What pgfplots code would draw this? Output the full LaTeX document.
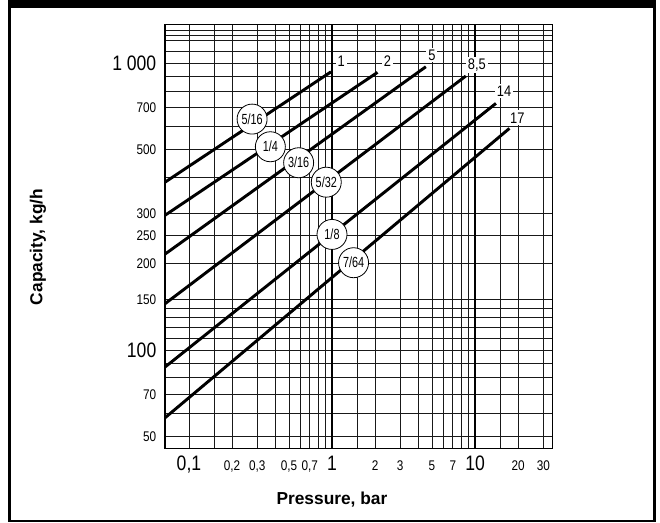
\documentclass[border=0pt]{standalone}
\usepackage{fontspec}
\setmainfont{Liberation Sans}
\newfontfamily\nar{Liberation Sans}[FakeStretch=0.84]
\newfontfamily\narr{Liberation Sans}[FakeStretch=0.74]
\usepackage{pgfplots}
\pgfplotsset{compat=1.18}
\newcommand\Lg{\fontsize{15.7}{16}\selectfont}
\begin{document}
\begin{tikzpicture}
\useasboundingbox (0,0) rectangle (495pt,392.25pt);
\begin{axis}[
  at={(123.75pt,56.0pt)}, anchor=south west,
  scale only axis, width=290.5pt, height=318pt,
  xmode=log, ymode=log,
  xmin=0.068, xmax=34.7, ymin=45.4, ymax=1368,
  xtick={0.1,0.2,0.3,0.5,0.7,1,2,3,5,7,10,20,30},
  xticklabels={{\Lg 0,1},{0,2},{0,3},{0,5},{0,7},{\Lg 1},{2},{3},{5},{7},{\Lg 10},{20},{30}},
  minor xtick={0.15,0.4,0.6,0.8,0.9,1.5,4,6,8,9,15},
  ytick={50,70,100,150,200,250,300,500,700,1000},
  yticklabels={{50},{70},{\Lg 100},{150},{200},{250},{300},{500},{700},{\Lg 1 000}},
  minor ytick={60,80,90,110,120,130,140,400,600,800,900,1100,1200,1250,1300},
  grid=both,
  major grid style={black!90, line width=0.65pt},
  minor grid style={black!90, line width=0.65pt},
  major tick length=0pt, minor tick length=0pt,
  axis line style={line width=1.2pt},
  ticklabel style={font=\nar\fontsize{10.5}{11}\selectfont},
  xticklabel style={anchor=base, yshift=-16.5pt},
  yticklabel style={xshift=-3pt},
  extra x ticks={1,10}, extra x tick labels={},
  extra x tick style={major grid style={black, line width=1.4pt}},
  xlabel={Pressure, bar}, ylabel={Capacity, kg/h},
  label style={font=\bfseries\fontsize{13}{14}\selectfont},
  xlabel style={at={(axis description cs:0.431,-0.122)}, anchor=center},
  ylabel style={at={(axis description cs:-0.328,0.475)}, anchor=center},
]
\addplot[line width=2.2pt] coordinates {(0.068,385) (0.984,934)};
\addplot[line width=2.2pt] coordinates {(0.068,295) (2.08,930)};
\addplot[line width=2.2pt] coordinates {(0.068,216) (4.53,973)};
\addplot[line width=2.2pt] coordinates {(0.068,145) (8.62,903)};
\addplot[line width=2.2pt] coordinates {(0.068,87.2) (14.0,725)};
\addplot[line width=2.2pt] coordinates {(0.068,58.0) (17.4,593)};
\tikzset{circ/.style={circle, draw, fill=white, line width=0.6pt, minimum size=22.5pt, inner sep=0pt, font=\narr\fontsize{11}{12}\selectfont},
 num/.style={fill=white, inner sep=1.5pt, font=\nar\fontsize{11.5}{12}\selectfont}}
\node[circ] at (axis cs:0.2763,639) {5/16};
\node[circ] at (axis cs:0.3707,511.7) {1/4};
\node[circ] at (axis cs:0.5844,450) {3/16};
\node[circ] at (axis cs:0.912,385) {5/32};
\node[circ] at (axis cs:1.0,253) {1/8};
\node[circ] at (axis cs:1.415,201.6) {7/64};
\node[num] at (axis cs:1.16,1021) {1};
\node[num] at (axis cs:2.44,1019) {2};
\node[num] at (axis cs:4.99,1069) {5};
\node[num] at (axis cs:10.3,986) {8,5};
\node[num] at (axis cs:15.97,802) {14};
\node[num] at (axis cs:19.77,646) {17};
\end{axis}
\fill[black] (6pt,386.25pt) rectangle (492pt,392.25pt);
\draw[line width=2.2pt] (7.2pt,392.25pt) -- (7.2pt,1.5pt) -- (490.9pt,1.5pt) -- (490.9pt,392.25pt);
\end{tikzpicture}
\end{document}
